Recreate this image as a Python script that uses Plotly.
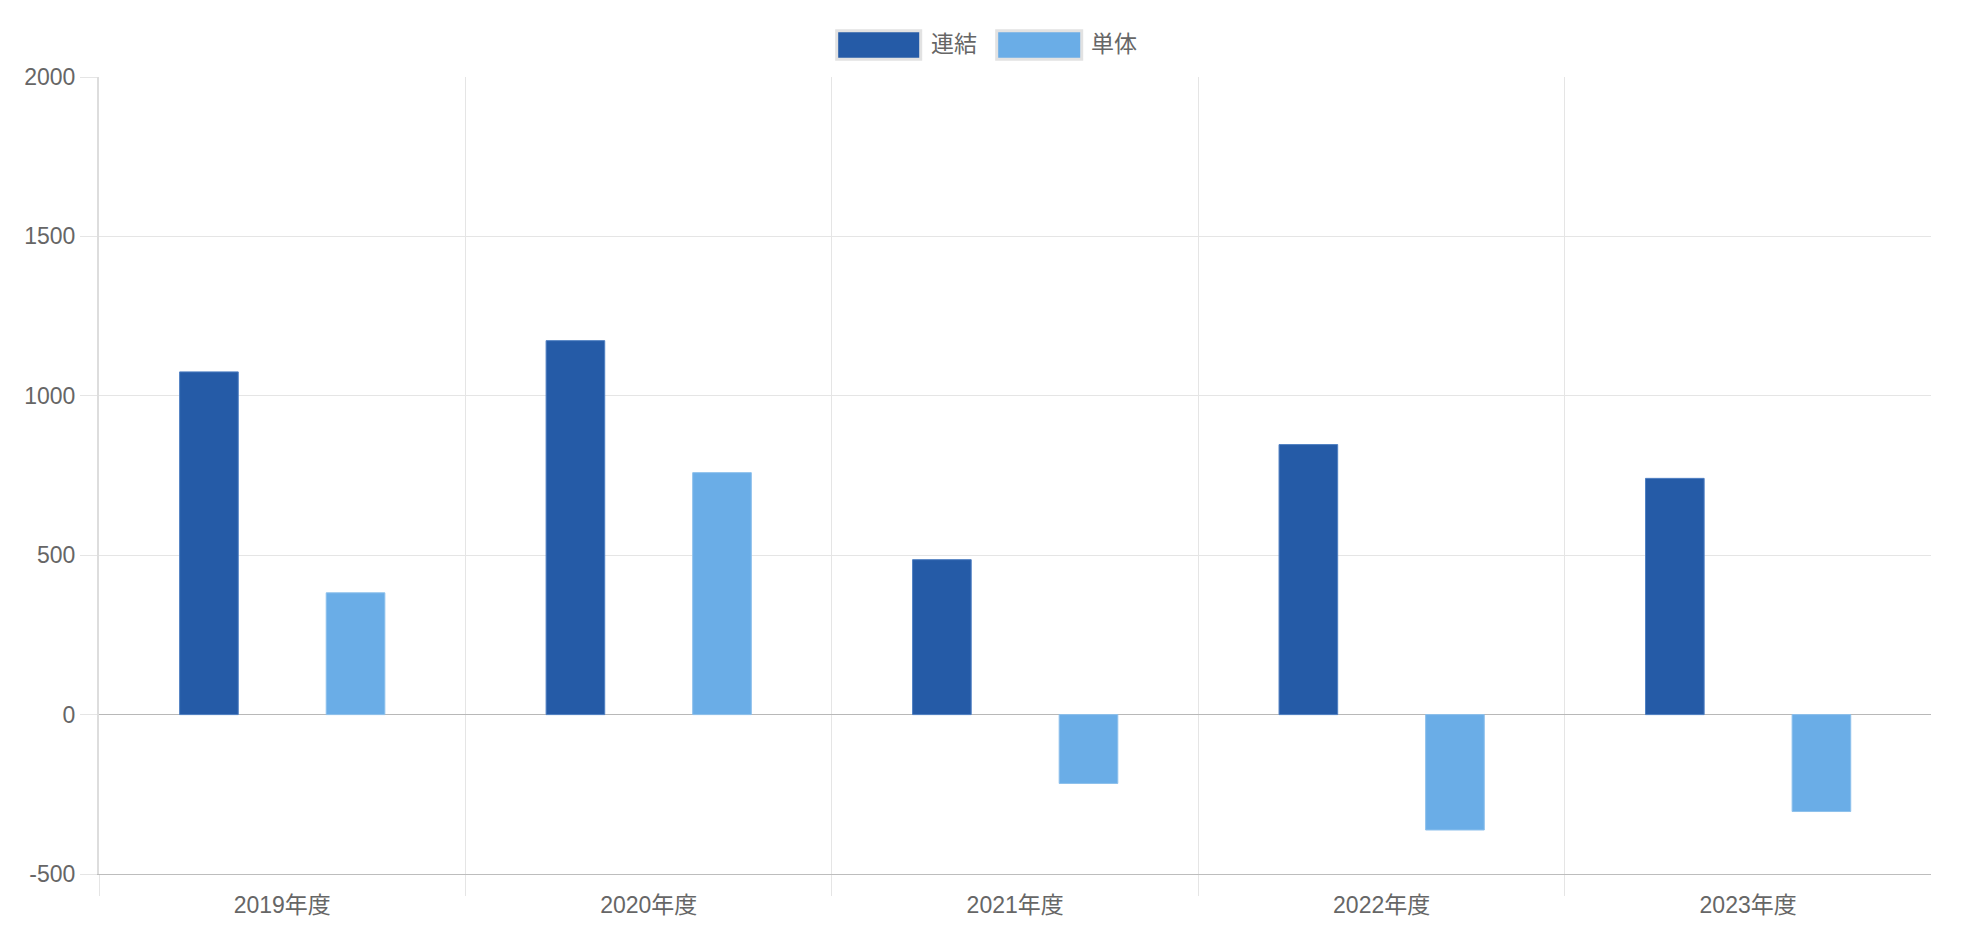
import plotly.graph_objects as go

categories = ["2019年度", "2020年度", "2021年度", "2022年度", "2023年度"]
renketsu = [1075, 1173, 486, 847, 741]
tantai = [382, 759, -216, -362, -304]
series_names = ["連結", "単体"]
y_ticks = [-500, 0, 500, 1000, 1500, 2000]

DARK = "#255BA7"
LIGHT = "#6AADE7"
FONT = "Liberation Sans, Arial, Noto Sans CJK JP, sans-serif"

W, H = 1982, 934
L, R, T, B = 99, 51, 77, 60
pw, ph = W - L - R, H - T - B


def px(x):
    return (x - L) / pw


def py(y):
    return (H - B - y) / ph


fig = go.Figure()
fig.add_trace(go.Bar(x=categories, y=renketsu, name=series_names[0],
                     marker=dict(color=DARK, line=dict(color="#4F7FC2", width=1))))
fig.add_trace(go.Bar(x=categories, y=tantai, name=series_names[1],
                     marker=dict(color=LIGHT, line=dict(color="#8DC0EC", width=1))))

# custom legend (wide boxes like the reference)
legend_items = [(836.7, 920.7, 929.0, DARK, series_names[0]),
                (996.7, 1081.7, 1089.0, LIGHT, series_names[1])]
for x0, x1, tx, col, name in legend_items:
    fig.add_shape(type="rect", xref="paper", yref="paper",
                  x0=px(x0), x1=px(x1), y0=py(59.3), y1=py(30.7),
                  fillcolor=col, line=dict(color="#E2E2E2", width=3))
    fig.add_annotation(xref="paper", yref="paper", x=px(tx), y=py(44),
                       xanchor="left", yanchor="middle", text=name, showarrow=False,
                       font=dict(size=23, color="#666666", family=FONT))

fig.update_layout(
    width=W, height=H,
    margin=dict(l=L, r=R, t=T, b=B, pad=0),
    paper_bgcolor="white", plot_bgcolor="white",
    barmode="group", bargap=0.2, bargroupgap=0.6,
    showlegend=False,
    font=dict(family=FONT, size=23, color="#666666"),
)
fig.update_xaxes(
    type="category", tickson="boundaries", showgrid=True,
    range=[-0.5, 4.499],
    gridcolor="#E5E5E5", gridwidth=1,
    ticks="outside", ticklen=21, tickcolor="#E5E5E5",
    ticklabelstandoff=10,
    showline=True, linecolor="#BDBDBD", linewidth=1,
    tickfont=dict(size=23, color="#666666"),
)
fig.update_yaxes(
    range=[-500, 2000], tickvals=y_ticks, ticktext=[str(v) for v in y_ticks],
    showgrid=True, gridcolor="#E5E5E5", gridwidth=1,
    zeroline=True, zerolinecolor="#B8B8B8", zerolinewidth=1,
    ticks="outside", ticklen=17, tickcolor="#E5E5E5",
    showline=True, linecolor="#DDDDDD", linewidth=2,
    tickfont=dict(size=23, color="#666666"),
)

fig.write_html("out.html")
